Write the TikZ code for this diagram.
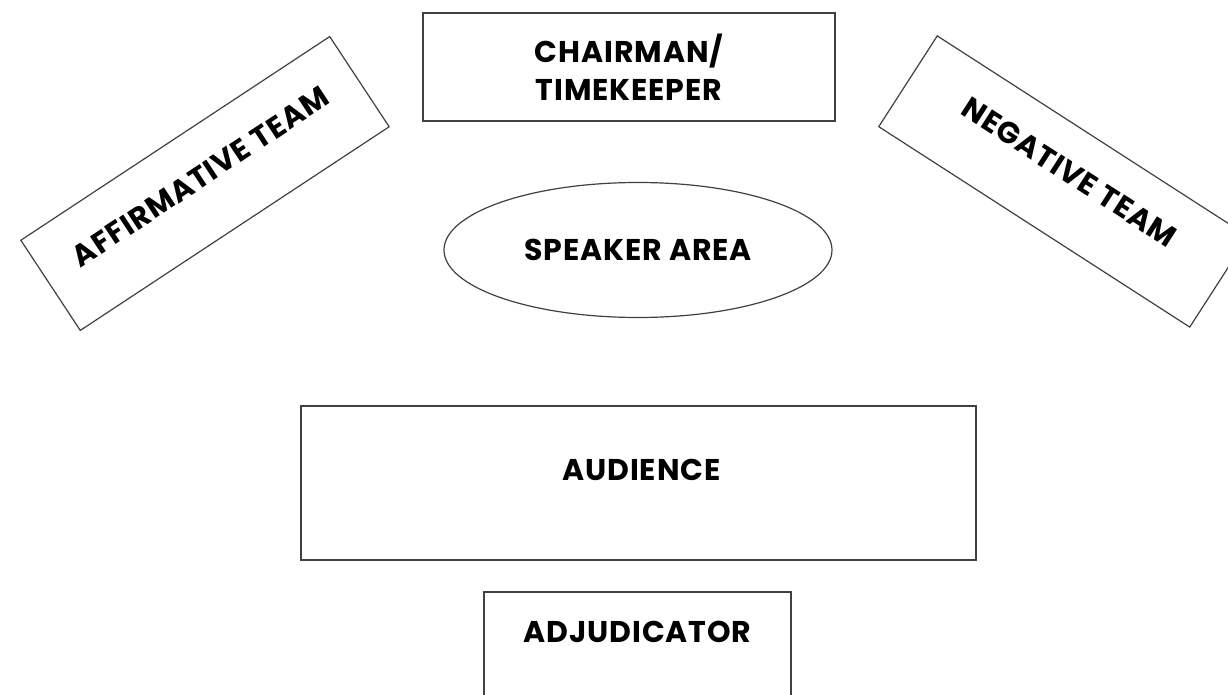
\documentclass[tikz,border=0pt]{standalone}
\usepackage{fontspec}
\setmainfont{Poppins}[LetterSpace=3]
\usetikzlibrary{shapes.geometric}
\usetikzlibrary{calc}

\begin{document}
\begin{tikzpicture}[x=0.5pt, y=-0.5pt,
	areabox/.style={draw=\options, line width=0.6pt, rectangle, inner sep=0pt},
	areatext/.style={font=\bfseries\fontsize{15}{19}\selectfont, align=center, text=black}]

	% page and clipping
	\useasboundingbox (0,0) rectangle (1228,695);
	\clip (0,0) rectangle (1228,695);
	% box colour scheme
	\def\options{black!75!white}

	% box placement
	\coordinate (chairPos) at (629,67);
	\coordinate (affPos) at (205,183.5);
	\coordinate (negPos) at (1063.5,181.5);
	\coordinate (speakPos) at (638,250);
	\coordinate (audPos) at (638.5,483);
	\coordinate (adjPos) at (637.5,662);

	% chairman at the top
	\node[areabox, areatext, minimum width=206pt, minimum height=54pt] (chair) at (chairPos) {CHAIRMAN/\\TIMEKEEPER};

	% the two teams, turned towards the speaker
	\node[areabox, rotate=33.4, minimum width=185pt, minimum height=54pt] (aff) at (affPos) {};
	\node[areatext, rotate=33.4] (affText) at ($(aff.center)!0.15!(aff.north)$) {AFFIRMATIVE TEAM};
	\node[areabox, rotate=-32.8, minimum width=185pt, minimum height=54pt] (neg) at (negPos) {};
	\node[areatext, rotate=-32.8] (negText) at ($(neg.center)!0.2!(neg.north)$) {NEGATIVE TEAM};

	% speaker area
	\node[draw=\options, line width=0.6pt, ellipse, areatext, minimum width=194pt, minimum height=67.5pt] (speak) at (speakPos) {SPEAKER AREA};

	% audience and adjudicator
	\node[areabox, minimum width=337.5pt, minimum height=77pt] (aud) at (audPos) {};
	\node[areatext] (audText) at ($(aud.center)+(3,-13)$) {AUDIENCE};
	\node[areabox, minimum width=153.5pt, minimum height=70pt] (adj) at (adjPos) {};
	\node[areatext] (adjText) at ($(adj.north)+(0,41)$) {ADJUDICATOR};

\end{tikzpicture}
\end{document}
